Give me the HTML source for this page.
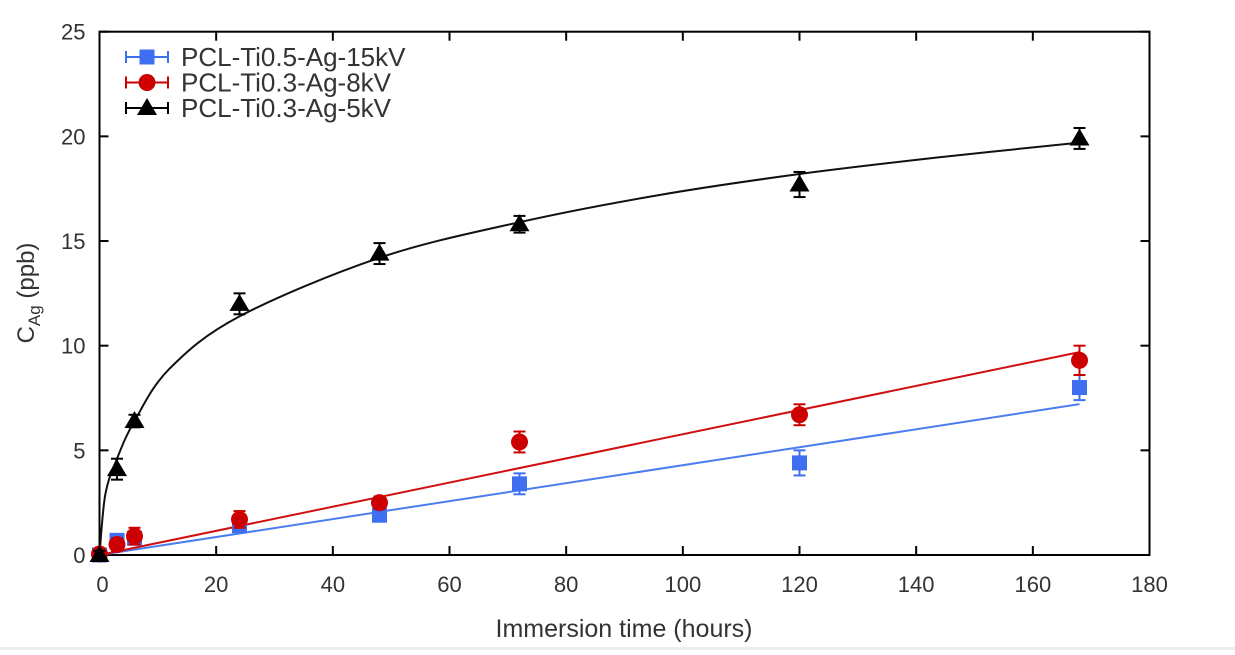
<!DOCTYPE html>
<html><head><meta charset="utf-8"><style>
body{margin:0;background:#fff;width:1235px;height:650px;overflow:hidden;font-family:"Liberation Sans",sans-serif;}
svg text{font-family:"Liberation Sans",sans-serif;fill:#333;}
</style></head><body>
<svg id="c" width="1235" height="650"></svg>
<script>
const xTicks=[0,20,40,60,80,100,120,140,160,180];
const yTicks=[0,5,10,15,20,25];
const times=[0,3,6,24,48,72,120,168];
const blueVals=[0,0.7,0.8,1.4,1.9,3.4,4.4,8.0];
const blueErr=[0.2,0.3,0.3,0.3,0.3,0.5,0.6,0.6];
const redVals=[0.05,0.5,0.9,1.7,2.5,5.4,6.7,9.3];
const redErr=[0.2,0.3,0.4,0.4,0.3,0.5,0.5,0.7];
const blackVals=[0,4.1,6.4,12.0,14.4,15.8,17.7,19.9];
const blackErr=[0.2,0.5,0.3,0.5,0.5,0.4,0.6,0.5];
const blueSlope=0.0429, redSlope=0.0577;
const fitT=[0,1,3,6,12,24,48,72,96,120,144,168];
const fitY=[0,2.9,4.6,6.4,8.9,11.4,14.2,15.9,17.2,18.2,19.0,19.7];
const X0=99.5,X1=1149.5,Y0=555,Y1=31.7;
const sx=v=>X0+v/180*(X1-X0), sy=v=>Y0-v/25*(Y0-Y1);
const svg=document.getElementById('c');const NS='http://www.w3.org/2000/svg';
function el(t,a,p){const e=document.createElementNS(NS,t);for(const k in a)e.setAttribute(k,a[k]);(p||svg).appendChild(e);return e;}
let e;
e=el('rect',{x:X0,y:Y1,width:X1-X0,height:Y0-Y1,fill:'none',stroke:'#000','stroke-width':2});


xTicks.forEach(v=>{const x=sx(v);
 el('line',{x1:x,x2:x,y1:Y0,y2:Y0-9,stroke:'#000','stroke-width':2});
 el('line',{x1:x,x2:x,y1:Y1,y2:Y1+9,stroke:'#000','stroke-width':2});
 const t=el('text',{x:v===0?x+3:x,y:Y0+37,'text-anchor':'middle','font-size':22});t.textContent=v;
 
 });
yTicks.forEach(v=>{const y=sy(v);
 el('line',{x1:X0,x2:X0+9,y1:y,y2:y,stroke:'#000','stroke-width':2});
 el('line',{x1:X1,x2:X1-9,y1:y,y2:y,stroke:'#000','stroke-width':2});
 const t=el('text',{x:X0-14,y:y+8,'text-anchor':'end','font-size':22});t.textContent=v;
 
 });
e=el('text',{x:624,y:637,'text-anchor':'middle','font-size':25});e.textContent='Immersion time (hours)';


e=el('text',{transform:'translate(34,293) rotate(-90)','text-anchor':'middle','font-size':24});
e.innerHTML='C<tspan font-size="17" dy="6">Ag</tspan><tspan dy="-6"> (ppb)</tspan>';


e=el('line',{x1:sx(0),y1:sy(0),x2:sx(168),y2:sy(168*blueSlope),stroke:'#4a7ef0','stroke-width':2});


e=el('line',{x1:sx(0),y1:sy(0),x2:sx(168),y2:sy(168*redSlope),stroke:'#d01010','stroke-width':2});


const P=fitT.map((t,i)=>[sx(t),sy(fitY[i])]);
let d='M'+P[0][0]+','+P[0][1];
for(let i=0;i<P.length-1;i++){const p0=P[Math.max(0,i-1)],p1=P[i],p2=P[i+1],p3=P[Math.min(P.length-1,i+2)];
 d+=` C${p1[0]+(p2[0]-p0[0])/6},${p1[1]+(p2[1]-p0[1])/6} ${p2[0]-(p3[0]-p1[0])/6},${p2[1]-(p3[1]-p1[1])/6} ${p2[0]},${p2[1]}`;}
e=el('path',{d:d,fill:'none',stroke:'#111','stroke-width':2});


function marker(shape,x,y,col){
 if(shape==='sq')return el('rect',{x:x-7.5,y:y-7.5,width:15,height:15,fill:col});
 if(shape==='ci')return el('circle',{cx:x,cy:y,r:8.5,fill:col});
 return el('polygon',{points:`${x},${y-10} ${x-10},${y+7} ${x+10},${y+7}`,fill:col});}
function series(vals,err,col,shape,name){
 times.forEach((t,i)=>{const x=sx(t),y=sy(vals[i]),ya=sy(vals[i]+err[i]),yb=sy(vals[i]-err[i]);
  el('line',{x1:x,x2:x,y1:ya,y2:yb,stroke:col,'stroke-width':2});
  el('line',{x1:x-6,x2:x+6,y1:ya,y2:ya,stroke:col,'stroke-width':2});
  el('line',{x1:x-6,x2:x+6,y1:yb,y2:yb,stroke:col,'stroke-width':2});
  const m=marker(shape,x,y,col);
  
  });}
series(blueVals,blueErr,'#3d6ff0','sq','blue');
series(redVals,redErr,'#cc0000','ci','red');
series(blackVals,blackErr,'#000','tr','black');
const leg=[['PCL-Ti0.5-Ag-15kV','#3d6ff0','sq'],['PCL-Ti0.3-Ag-8kV','#cc0000','ci'],['PCL-Ti0.3-Ag-5kV','#000','tr']];
leg.forEach((l,i)=>{const y=57+i*25.5;
 el('line',{x1:126,x2:168,y1:y,y2:y,stroke:l[1],'stroke-width':2});
 el('line',{x1:126,x2:126,y1:y-6,y2:y+6,stroke:l[1],'stroke-width':2});
 el('line',{x1:168,x2:168,y1:y-6,y2:y+6,stroke:l[1],'stroke-width':2});
 marker(l[2],147,y,l[1]);
 const t=el('text',{x:181,y:y+9,'font-size':26});t.textContent=l[0];
 
 });
e=el('rect',{x:0,y:647,width:1235,height:3,fill:'#eee'});


</script>
</body></html>
